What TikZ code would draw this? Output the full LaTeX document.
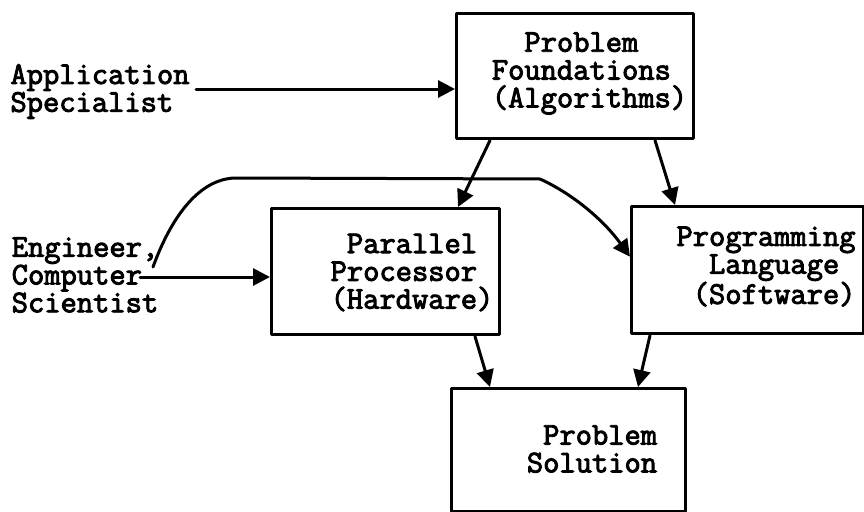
\documentclass[tikz,border=0pt]{standalone}
\usepackage{fontspec}
\setmonofont{Latin Modern Mono}[FakeBold=3]
\usetikzlibrary{arrows.meta}
\begin{document}
\begin{tikzpicture}[x=1pt,y=-1pt,
  blk/.style={draw, line width=3.4pt, line join=round, inner sep=0pt, anchor=north west},
  lbl/.style={align=left, inner sep=0pt, font=\fontsize{31.6}{27.8}\selectfont\ttfamily\bfseries},
  flow/.style={line width=3pt, line cap=round, -{Triangle[length=17pt,width=17pt]}}]
\useasboundingbox (0,0) rectangle (864,511);

% boxes
\node[blk, minimum width=237pt, minimum height=125pt] (pf) at (455,12) {};
\node[blk, minimum width=228pt, minimum height=126pt] (pp) at (270,207) {};
\node[blk, minimum width=232pt, minimum height=127pt] (pl) at (630,205) {};
\node[blk, minimum width=234pt, minimum height=123pt] (ps) at (450,387) {};

% box texts
\node[lbl] (pftext) at (589.5,73.5) {\hphantom{xx}Problem\\Foundations\\(Algorithms)};
\node[lbl] (pptext) at (412,272.5) {\hphantom{x}Parallel\\Processor\\(Hardware)};
\node[lbl] (pltext) at (766,266.5) {Programming\\\hphantom{xx}Language\\\hphantom{x}(Software)};
\node[lbl] (pstext) at (592,449) {\hphantom{x}Problem\\Solution};

% people
\node[lbl] (app) at (100,91.5) {Application\\Specialist};
\node[lbl] (eng) at (85,275) {Engineer,\\Computer\\Scientist};

\coordinate (appEnd) at (196,89);
\coordinate (cmpEnd) at (140,277);
\coordinate (curveStart) at (153,267);

% connectors
\draw[flow] (appEnd) -- (appEnd -| pf.west);
\draw[flow] (cmpEnd) -- (cmpEnd -| pp.west);
\draw[flow] (curveStart) .. controls (172,215) and (200,179) .. (235,178)
  -- (540,179) .. controls (575,195) and (605,222) .. ([yshift=13.5pt]pl.west);
\draw[flow] ([xshift=35pt]pf.south west) -- ([xshift=188pt]pp.north west);
\draw[flow] ([xshift=200pt]pf.south west) -- ([xshift=45pt]pl.north west);
\draw[flow] ([xshift=205pt]pp.south west) -- ([xshift=40pt]ps.north west);
\draw[flow] ([xshift=20pt]pl.south west) -- ([xshift=188pt]ps.north west);
\end{tikzpicture}
\end{document}
